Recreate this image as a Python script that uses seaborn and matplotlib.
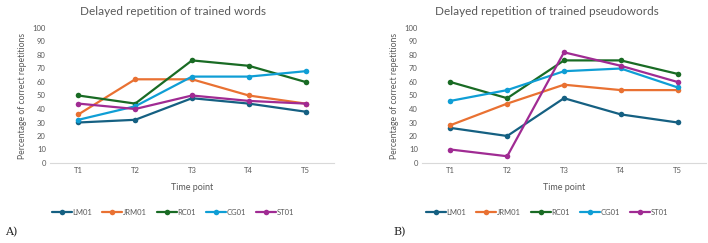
import pandas as pd
import seaborn as sns
import matplotlib.pyplot as plt

# datos
time_points = ["T1", "T2", "T3", "T4", "T5"]
participants = ["LM01", "JRM01", "RC01", "CG01", "ST01"]

words_lm01 = [30, 32, 48, 44, 38]
words_jrm01 = [36, 62, 62, 50, 44]
words_rc01 = [50, 44, 76, 72, 60]
words_cg01 = [32, 42, 64, 64, 68]
words_st01 = [44, 40, 50, 46, 44]

pseudo_lm01 = [26, 20, 48, 36, 30]
pseudo_jrm01 = [28, 44, 58, 54, 54]
pseudo_rc01 = [60, 48, 76, 76, 66]
pseudo_cg01 = [46, 54, 68, 70, 56]
pseudo_st01 = [10, 5, 82, 72, 60]

colors = ["#156082", "#E97132", "#196B24", "#0F9ED5", "#A02B93"]
text_col = "#595959"


def long_df(series):
    rows = []
    for name, vals in zip(participants, series):
        for t, v in zip(time_points, vals):
            rows.append({"time": t, "pct": v, "participant": name})
    return pd.DataFrame(rows)


words = long_df([words_lm01, words_jrm01, words_rc01, words_cg01, words_st01])
pseudo = long_df([pseudo_lm01, pseudo_jrm01, pseudo_rc01, pseudo_cg01, pseudo_st01])

sns.set_style("white")
plt.rcParams["font.family"] = ["Lato", "DejaVu Sans"]

W, H = 708, 243
fig = plt.figure(figsize=(W / 100, H / 100), dpi=100)

# (datos, titulo, x del eje, centro del titulo/leyenda, etiqueta, x etiqueta)
panels = [
    (words, "Delayed repetition of trained words", 50, 173, "A)", 5),
    (pseudo, "Delayed repetition of trained pseudowords", 422, 547, "B)", 393),
]

for df, title, x0, xc, tag, tagx in panels:
    ax = fig.add_axes([x0 / W, 80 / H, 284 / W, 135 / H])
    sns.lineplot(data=df, x="time", y="pct", hue="participant", palette=colors,
                 marker="o", markersize=4, markeredgewidth=0, linewidth=1.6,
                 ax=ax, legend=True)
    ax.set_ylim(0, 100)
    ax.set_xlim(-0.5, 4.5)
    ax.set_yticks(range(0, 101, 10))
    ax.tick_params(axis="both", labelsize=5.5, colors=text_col, length=0, pad=3)
    rel = (xc - x0) / 284
    ax.set_title(title, fontsize=8.5, color=text_col, pad=9, x=rel)
    ax.set_xlabel("Time point", fontsize=6.5, color=text_col, labelpad=6)
    ax.set_ylabel("Percentage of correct repetitions", fontsize=6.2, color=text_col, labelpad=4)
    for s in ["top", "right", "left"]:
        ax.spines[s].set_visible(False)
    ax.spines["bottom"].set_color("#d9d9d9")
    ax.spines["bottom"].set_linewidth(0.8)
    handles, labels = ax.get_legend_handles_labels()
    ax.legend(handles, labels, loc="center", bbox_to_anchor=(rel, -0.365), ncol=5,
              frameon=False, fontsize=5.5, handlelength=2.6, columnspacing=1.3,
              handletextpad=0.1, labelcolor=text_col)
    fig.text(tagx / W, 1 - 232 / H, tag, fontsize=8, family="DejaVu Serif", va="center")

fig.savefig("out.png", dpi=100)
